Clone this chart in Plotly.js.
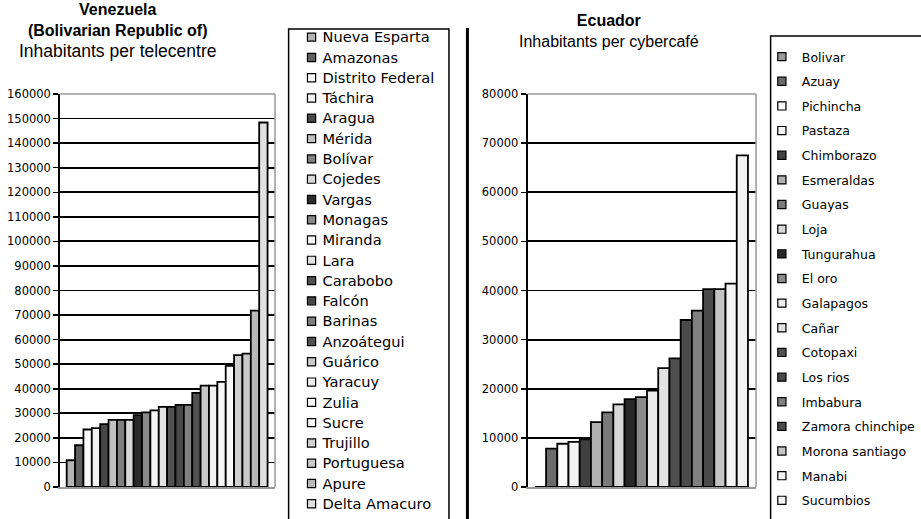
<!DOCTYPE html>
<html>
<head>
<meta charset="utf-8">
<script src="https://cdn.plot.ly/plotly-3.0.1.min.js"></script>
<style>
  body { margin: 0; background: #fff; }
  #chart { width: 921px; height: 519px; }
  /* smaller legend swatches, labels pulled closer */
  #chart .legendpoints { transform: translate(20px, 0px) scale(0.68) translate(-20px, 0px); }
  #chart .legendtext { transform: translate(-9px, 0px); }
  #chart g.legend .legendtext { font-size: 14.6px !important; }
</style>
</head>
<body>
<div id="chart"></div>
<script>
// venezuela: inhabitants per telecentre
const venStates = ["Nueva Esparta", "Amazonas", "Distrito Federal", "Táchira", "Aragua", "Mérida",
  "Bolívar", "Cojedes", "Vargas", "Monagas", "Miranda", "Lara", "Carabobo", "Falcón", "Barinas",
  "Anzoátegui", "Guárico", "Yaracuy", "Zulia", "Sucre", "Trujillo", "Portuguesa", "Apure", "Delta Amacuro"]
const venValues = [10900, 17000, 23400, 24000, 25600, 27300, 27300, 27300, 29300, 30400, 31200, 32600,
  32600, 33400, 33400, 38300, 41300, 41300, 42800, 49300, 53700, 54300, 71800, 148400]
const venColors = ["#b4b4b4", "#606060", "#fafafa", "#f2f2f2", "#484848", "#c0c0c0", "#808080", "#d8d8d8",
  "#2c2c2c", "#888888", "#f4f4f4", "#e2e2e2", "#505050", "#484848", "#808080", "#505050", "#c8c8c8",
  "#f0f0f0", "#f8f8f8", "#f8f8f8", "#d0d0d0", "#c8c8c8", "#b8b8b8", "#e0e0e0"]

// ecuador: inhabitants per cybercafe
const ecuProvinces = ["Bolivar", "Azuay", "Pichincha", "Pastaza", "Chimborazo", "Esmeraldas", "Guayas",
  "Loja", "Tungurahua", "El oro", "Galapagos", "Cañar", "Cotopaxi", "Los rios", "Imbabura",
  "Zamora chinchipe", "Morona santiago", "Manabi", "Sucumbios"]
const ecuValues = [0, 7800, 8800, 9200, 9700, 13200, 15200, 16800, 17900, 18300, 19600, 24200, 26200,
  34000, 35900, 40300, 40300, 41400, 67500]
const ecuColors = ["#9a9a9a", "#6a6a6a", "#fafafa", "#f4f4f4", "#404040", "#b0b0b0", "#7a7a7a", "#d8d8d8",
  "#282828", "#8a8a8a", "#ececec", "#e2e2e2", "#505050", "#4a4a4a", "#808080", "#4a4a4a", "#c4c4c4",
  "#f4f4f4", "#f2f2f2"]

const W = 921
const H = 519
function px(x) { return x / W }
function py(y) { return 1 - y / H }

let traces = []

for (let i = 0; i < venStates.length; i++) {
  traces.push({
    type: "bar",
    x: [venStates[i]],
    y: [venValues[i]],
    name: venStates[i],
    xaxis: "x",
    yaxis: "y",
    legend: "legend",
    marker: { color: venColors[i], line: { color: "#000", width: 1.8 } },
    hoverinfo: "name+y"
  })
}

for (let i = 0; i < ecuProvinces.length; i++) {
  traces.push({
    type: "bar",
    x: [ecuProvinces[i]],
    y: [ecuValues[i]],
    name: ecuProvinces[i],
    xaxis: "x2",
    yaxis: "y2",
    legend: "legend2",
    legendgroup: "e" + i,
    marker: { color: ecuColors[i], line: { color: "#000", width: 1.8 } },
    hoverinfo: "name+y"
  })
}

let xBase = {
  type: "category",
  showticklabels: false,
  ticks: "",
  showgrid: false,
  zeroline: false,
  showline: true,
  linecolor: "#999",
  linewidth: 1.5
}

let yBase = {
  dtick: 10000,
  tickformat: "d",
  ticks: "outside",
  ticklen: 5,
  tickwidth: 1.5,
  tickcolor: "#000",
  showgrid: true,
  gridcolor: "#000",
  gridwidth: 1.8,
  zeroline: false,
  showline: true,
  linecolor: "#000",
  linewidth: 2,
  tickfont: { family: "DejaVu Sans", size: 11.5, color: "#000" },
  domain: [py(487), py(94)]
}

// gray top/right plot border
function plotBorder(xr, yr) {
  return [
    { type: "line", xref: xr + " domain", yref: yr + " domain", x0: 0, x1: 1, y0: 1, y1: 1,
      line: { color: "#999", width: 1.5 }, layer: "above" },
    { type: "line", xref: xr + " domain", yref: yr + " domain", x0: 1, x1: 1, y0: 0, y1: 1,
      line: { color: "#999", width: 1.5 }, layer: "above" }
  ]
}

let shapes = plotBorder("x", "y").concat(plotBorder("x2", "y2"))
// legend boxes and the divider
shapes.push({ type: "rect", xref: "paper", yref: "paper", x0: px(297), x1: px(462), y0: py(540), y1: py(29),
  line: { color: "#000", width: 1.5 } })
shapes.push({ type: "rect", xref: "paper", yref: "paper", x0: px(793), x1: px(960), y0: py(540), y1: py(36),
  line: { color: "#000", width: 1.5 } })
shapes.push({ type: "line", xref: "paper", yref: "paper", x0: px(481), x1: px(481), y0: py(519), y1: py(28),
  line: { color: "#000", width: 3 } })

let layout = {
  width: W,
  height: H,
  margin: { l: 0, r: 0, t: 0, b: 0 },
  paper_bgcolor: "#fff",
  plot_bgcolor: "#fff",
  barmode: "overlay",
  bargap: 0,
  showlegend: true,
  xaxis: Object.assign({}, xBase, { domain: [px(62), px(283)], range: [-1.27, 24.39], anchor: "y" }),
  yaxis: Object.assign({}, yBase, { range: [0, 160000], anchor: "x" }),
  xaxis2: Object.assign({}, xBase, { domain: [px(543), px(778)], range: [-1.14, 19.22], anchor: "y2" }),
  yaxis2: Object.assign({}, yBase, { range: [0, 80000], anchor: "x2" }),
  legend: {
    x: px(300), xanchor: "left", y: py(37), yanchor: "top",
    bgcolor: "rgba(0,0,0,0)", borderwidth: 0,
    font: { family: "DejaVu Sans", size: 13.3, color: "#000" },
    traceorder: "normal", maxheight: 519
  },
  legend2: {
    x: px(784), xanchor: "left", y: py(42), yanchor: "top",
    bgcolor: "rgba(0,0,0,0)", borderwidth: 0,
    font: { family: "DejaVu Sans", size: 12.5, color: "#000" },
    traceorder: "grouped", tracegroupgap: 5.4, maxheight: 519
  },
  shapes: shapes,
  annotations: [
    {
      xref: "paper", yref: "paper", x: px(121), y: py(-1), xanchor: "center", yanchor: "top",
      showarrow: false, align: "center",
      text: "<b>Venezuela</b><br><b>(Bolivarian Republic of)</b><br><span style='font-size:17.5px'>Inhabitants per telecentre</span>",
      font: { family: "Liberation Sans", size: 16, color: "#000" }
    },
    {
      xref: "paper", yref: "paper", x: px(627), y: py(10), xanchor: "center", yanchor: "top",
      showarrow: false, align: "center",
      text: "<b>Ecuador</b><br>Inhabitants per cybercafé",
      font: { family: "Liberation Sans", size: 16, color: "#000" }
    }
  ]
}

Plotly.newPlot("chart", traces, layout, { displayModeBar: false, staticPlot: true })
</script>
</body>
</html>
